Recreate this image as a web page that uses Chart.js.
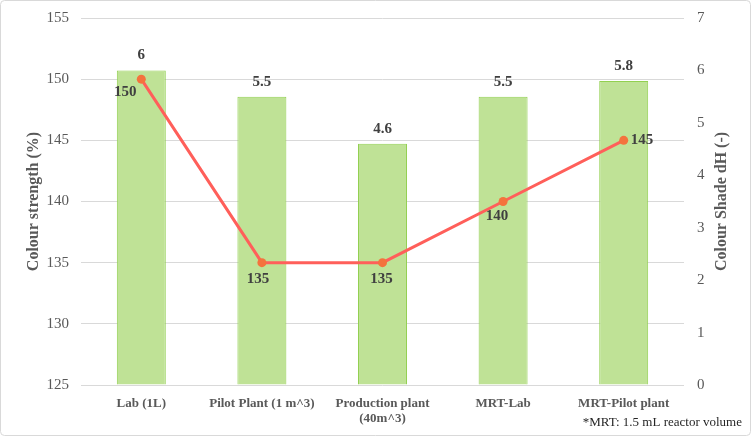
<!DOCTYPE html>
<html><head><meta charset="utf-8">
<script src="https://cdn.jsdelivr.net/npm/chart.js@4.4.1/dist/chart.umd.min.js"></script>
<style>html,body{margin:0;padding:0;background:#fff}#wrap{width:751px;height:436px;position:relative}</style>
</head><body><div id="wrap"><canvas id="c" width="751" height="436"></canvas></div>
<script>
const categories = [['Lab (1L)'], ['Pilot Plant (1 m^3)'], ['Production plant', '(40m^3)'], ['MRT-Lab'], ['MRT-Pilot plant']];
const colourShade = [6, 5.5, 4.6, 5.5, 5.8];
const colourStrength = [150, 135, 135, 140, 145];
const leftTicks = [125, 130, 135, 140, 145, 150, 155];
const rightTicks = [0, 1, 2, 3, 4, 5, 6, 7];
const leftTitle = 'Colour strength (%)';
const rightTitle = 'Colour Shade dH (-)';
const footnote = '*MRT: 1.5 mL reactor volume';

// label placement for line points (dx, dy, align) — styling only
const lineLabelPlace = [[-16, 13, 'center'], [-4, 16, 'center'], [-1, 16, 'center'], [-6, 15, 'center'], [7, 0, 'left']];

const SERIF = '"Liberation Serif", "Times New Roman", serif';

const decor = {
  id: 'decor',
  beforeDraw(chart) {
    const ctx = chart.ctx;
    ctx.save();
    ctx.fillStyle = '#fff';
    ctx.fillRect(0, 0, chart.width, chart.height);
    ctx.restore();
  },
  afterDraw(chart) {
    const ctx = chart.ctx;
    const ca = chart.chartArea;
    ctx.save();
    const barMeta = chart.getDatasetMeta(1);
    ctx.font = 'bold 15px ' + SERIF;
    ctx.fillStyle = '#404040';
    ctx.textAlign = 'center';
    ctx.textBaseline = 'middle';
    barMeta.data.forEach((el, i) => {
      ctx.fillText(String(colourShade[i]), el.x, el.y - 15);
    });
    const lineMeta = chart.getDatasetMeta(0);
    lineMeta.data.forEach((el, i) => {
      const p = lineLabelPlace[i];
      ctx.textAlign = p[2];
      ctx.fillText(String(colourStrength[i]), el.x + p[0], el.y + p[1]);
    });
    const cy = (ca.top + ca.bottom) / 2;
    ctx.font = 'bold 16px ' + SERIF;
    ctx.fillStyle = '#595959';
    ctx.textAlign = 'center';
    ctx.save();
    ctx.translate(34, cy);
    ctx.rotate(-Math.PI / 2);
    ctx.fillText(leftTitle, 0, 0);
    ctx.restore();
    ctx.save();
    ctx.translate(722, cy);
    ctx.rotate(-Math.PI / 2);
    ctx.fillText(rightTitle, 0, 0);
    ctx.restore();
    ctx.font = '13px ' + SERIF;
    ctx.fillStyle = '#262626';
    ctx.textAlign = 'right';
    ctx.fillText(footnote, 742, 423);
    ctx.strokeStyle = '#d9d9d9';
    ctx.lineWidth = 1;
    ctx.beginPath();
    if (ctx.roundRect) ctx.roundRect(0.5, 0.5, chart.width - 1, chart.height - 1, 4);
    else ctx.rect(0.5, 0.5, chart.width - 1, chart.height - 1);
    ctx.stroke();
    ctx.restore();
  }
};

function fitVertical(width) {
  return function (s) {
    s.width = width;
    s.paddingTop = 0;
    s.paddingBottom = 0;
  };
}

new Chart(document.getElementById('c'), {
  type: 'bar',
  data: {
    labels: categories,
    datasets: [
      {
        type: 'line',
        label: leftTitle,
        data: colourStrength,
        yAxisID: 'y',
        borderColor: '#FF5F5A',
        borderWidth: 3,
        pointRadius: 4.5,
        pointBackgroundColor: '#F4733D',
        pointBorderWidth: 0,
        pointHoverRadius: 4.5,
        tension: 0,
        order: 0
      },
      {
        type: 'bar',
        label: rightTitle,
        data: colourShade,
        yAxisID: 'y1',
        backgroundColor: '#BFE296',
        borderColor: '#92D050',
        borderWidth: 1,
        barPercentage: 0.406,
        categoryPercentage: 1,
        order: 1
      }
    ]
  },
  options: {
    responsive: false,
    devicePixelRatio: 1,
    animation: false,
    events: [],
    layout: { padding: { top: 18, left: 0, right: 0, bottom: 0 } },
    plugins: { legend: { display: false }, tooltip: { enabled: false } },
    scales: {
      x: {
        grid: { display: false, drawTicks: false },
        border: { display: false },
        ticks: { padding: 11, color: '#595959', font: { family: SERIF, size: 13, weight: 'bold', lineHeight: 1.15 }, maxRotation: 0, autoSkip: false },
        afterFit(s) { s.height = 51; s.paddingLeft = 0; s.paddingRight = 0; }
      },
      y: {
        position: 'left',
        min: leftTicks[0], max: leftTicks[leftTicks.length - 1],
        afterBuildTicks(s) { s.ticks = leftTicks.map(v => ({ value: v })); },
        grid: { color: '#d9d9d9', lineWidth: 1, drawTicks: false },
        border: { display: false },
        ticks: { padding: 12, color: '#595959', font: { family: SERIF, size: 15 } },
        afterFit: fitVertical(81)
      },
      y1: {
        position: 'right',
        min: rightTicks[0], max: rightTicks[rightTicks.length - 1],
        afterBuildTicks(s) { s.ticks = rightTicks.map(v => ({ value: v })); },
        grid: { drawOnChartArea: false, drawTicks: false },
        border: { display: false },
        ticks: { padding: 13, color: '#595959', font: { family: SERIF, size: 15 } },
        afterFit: fitVertical(67)
      }
    }
  },
  plugins: [decor]
});
</script>
</body></html>
